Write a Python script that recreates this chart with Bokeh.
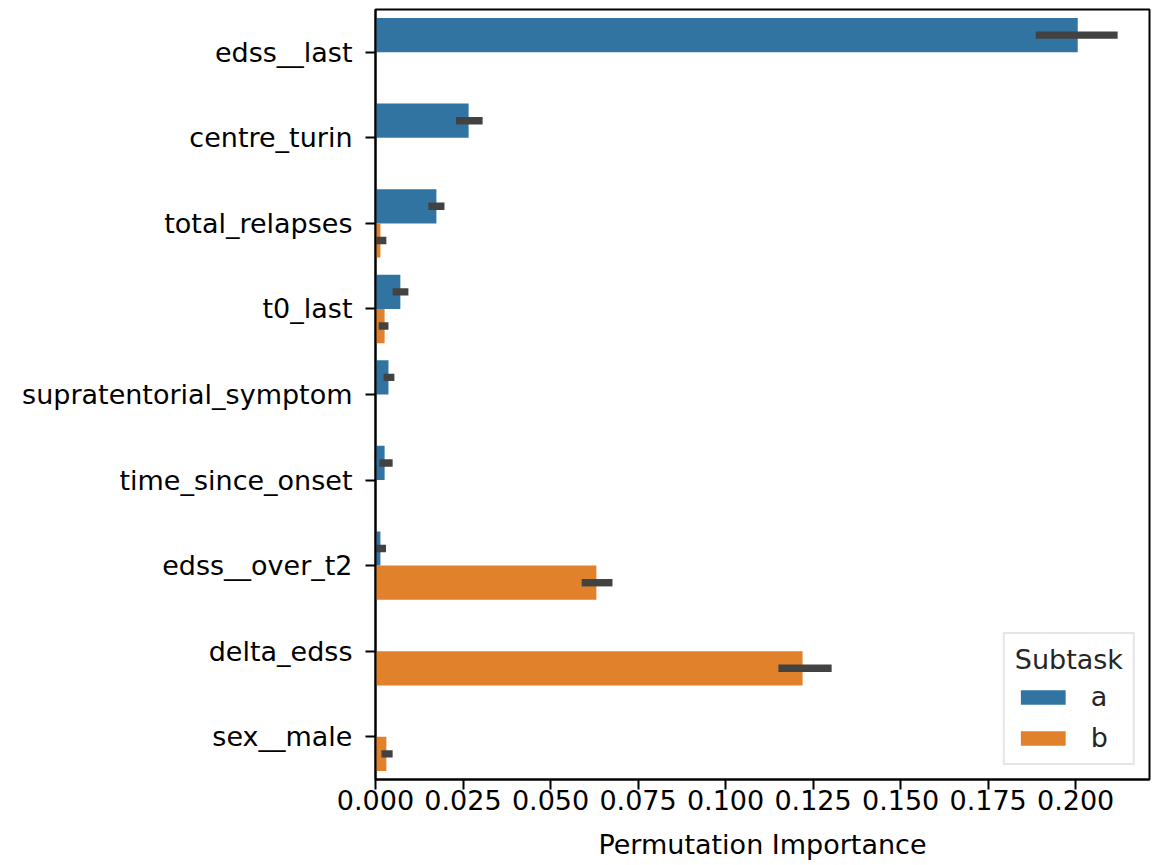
from bokeh.plotting import figure
from bokeh.models import (FactorRange, Range1d, FixedTicker, PrintfTickFormatter,
                          Legend, LegendItem, ColumnDataSource)
from bokeh.transform import dodge
from bokeh.embed import file_html
from bokeh.resources import INLINE

features = ["edss__last", "centre_turin", "total_relapses", "t0_last",
            "supratentorial_symptom", "time_since_onset", "edss__over_t2",
            "delta_edss", "sex__male"]
a_imp = [0.2006, 0.0266, 0.0174, 0.0071, 0.0037, 0.0026, 0.0014, 0.0, 0.0]
a_lo = [0.1886, 0.0230, 0.0151, 0.0049, 0.0023, 0.0011, 0.0003, 0.0, 0.0]
a_hi = [0.2120, 0.0306, 0.0197, 0.0094, 0.0054, 0.0049, 0.0030, 0.0, 0.0]
b_imp = [0.0, 0.0, 0.0014, 0.0026, 0.0, 0.0, 0.0631, 0.1220, 0.0031]
b_lo = [0.0, 0.0, 0.0003, 0.0009, 0.0, 0.0, 0.0589, 0.1151, 0.0017]
b_hi = [0.0, 0.0, 0.0031, 0.0037, 0.0, 0.0, 0.0677, 0.1303, 0.0049]
x_ticks = [0.0, 0.025, 0.05, 0.075, 0.1, 0.125, 0.15, 0.175, 0.2]
subtasks = ["a", "b"]
colors = ["#3274a1", "#e1812c"]

FONT = "DejaVu Sans"
FS = "27px"

p = figure(y_range=FactorRange(factors=list(reversed(features))),
           x_range=Range1d(0, 0.2211),
           frame_width=774, frame_height=770,
           min_border_left=375, min_border_top=9, min_border_right=3,
           min_border_bottom=84,
           output_backend="svg", toolbar_location=None)

src = ColumnDataSource(dict(feature=features, a=a_imp, b=b_imp))
ra = p.hbar(y=dodge("feature", 0.2, range=p.y_range), right="a", left=0, height=0.4,
            source=src, fill_color=colors[0], line_color=None)
rb = p.hbar(y=dodge("feature", -0.2, range=p.y_range), right="b", left=0, height=0.4,
            source=src, fill_color=colors[1], line_color=None)

for lo, hi, off in [(a_lo, a_hi, 0.2), (b_lo, b_hi, -0.2)]:
    idx = [i for i in range(len(features)) if hi[i] > lo[i]]
    es = ColumnDataSource(dict(feature=[features[i] for i in idx],
                               lo=[lo[i] for i in idx], hi=[hi[i] for i in idx]))
    yv = dodge("feature", off, range=p.y_range)
    p.segment(x0="lo", x1="hi", y0=yv, y1=yv, source=es,
              line_color="#424242", line_width=7.4, line_cap="butt")

p.xgrid.visible = False
p.ygrid.visible = False
p.outline_line_color = "black"
p.outline_line_width = 2
p.outline_line_alpha = 1

for ax in (p.xaxis[0], p.yaxis[0]):
    ax.axis_line_width = 2
    ax.major_tick_line_width = 2
    ax.major_tick_out = 10
    ax.major_tick_in = 0
    ax.minor_tick_out = 0
    ax.minor_tick_in = 0
    ax.major_label_text_font = FONT
    ax.major_label_text_font_size = FS
    ax.major_label_text_color = "black"
    ax.axis_label_text_font = FONT
    ax.axis_label_text_font_size = FS
    ax.axis_label_text_font_style = "normal"
    ax.axis_label_text_color = "black"

p.xaxis.ticker = FixedTicker(ticks=x_ticks)
p.xaxis.formatter = PrintfTickFormatter(format="%.3f")
p.xaxis.major_label_standoff = 0
p.xaxis.axis_label = "Permutation Importance"
p.xaxis.axis_label_standoff = 16
p.yaxis.major_label_standoff = 13

legend = Legend(items=[LegendItem(label=subtasks[0], renderers=[ra]),
                       LegendItem(label=subtasks[1], renderers=[rb])],
                location="bottom_right", title="Subtask")
legend.title_text_font = FONT
legend.title_text_font_size = FS
legend.title_text_font_style = "normal"
legend.title_text_color = "#262626"
legend.title_standoff = 6
legend.label_text_font = FONT
legend.label_text_font_size = FS
legend.label_text_color = "#262626"
legend.glyph_width = 56
legend.glyph_height = 18
legend.label_standoff = 20
legend.spacing = 10
legend.padding = 10
legend.margin = 14
legend.border_line_color = "#cccccc"
legend.border_line_width = 2
legend.background_fill_alpha = 0.8
p.add_layout(legend)

open("out.html", "w").write(file_html(p, INLINE))
